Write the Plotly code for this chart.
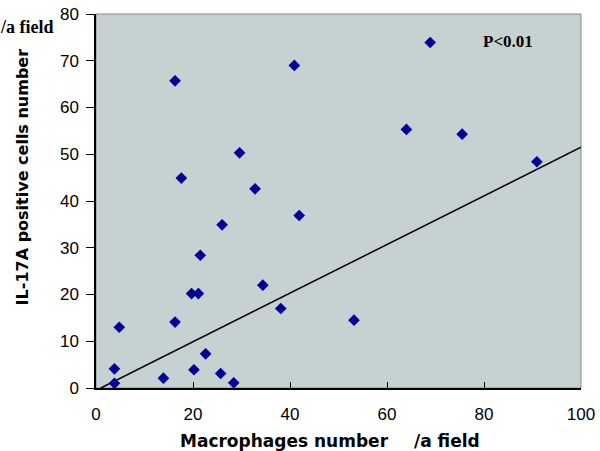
import plotly.graph_objects as go

macrophages = [16.3, 40.9, 29.6, 17.6, 32.8, 41.9, 26.0, 21.5, 34.4, 19.7, 21.1, 38.1,
               16.3, 53.2, 22.6, 20.2, 25.7, 13.9, 28.4, 4.8, 3.8, 3.8, 68.9, 64.0,
               75.5, 90.9]
il17a = [65.7, 69.0, 50.3, 44.9, 42.6, 36.9, 34.9, 28.4, 22.0, 20.2, 20.2, 17.0,
         14.1, 14.5, 7.3, 3.9, 3.1, 2.1, 1.1, 13.0, 4.1, 1.0, 73.9, 55.3,
         54.3, 48.4]
trend_x = [1, 100]
trend_y = [0, 51.5]
x_ticks = [0, 20, 40, 60, 80, 100]
y_ticks = [0, 10, 20, 30, 40, 50, 60, 70, 80]

W, H = 600, 451
L, R, T, B = 96, 17, 5, 63
pw, ph = W - L - R, H - T - B


def px(xp):
    return (xp - L) / pw


def py(yp):
    return 1 - (yp - T) / ph


fig = go.Figure()
fig.add_trace(go.Scatter(x=trend_x, y=trend_y, mode="lines",
                         line=dict(color="black", width=1.5), showlegend=False))
fig.add_trace(go.Scatter(x=macrophages, y=il17a, mode="markers",
                         marker=dict(symbol="diamond", size=9, color="#000099"),
                         showlegend=False))

common = dict(xref="paper", yref="paper", showarrow=False,
              xanchor="center", yanchor="middle")
fig.update_layout(
    width=W, height=H,
    margin=dict(l=L, r=R, t=T, b=B),
    paper_bgcolor="white", plot_bgcolor="#C6D1D1",
    font=dict(family="Liberation Sans, Arial", size=17, color="black"),
    xaxis=dict(range=[0, 100], tickvals=x_ticks, ticks="inside", ticklen=6,
               tickcolor="black", showline=True, linecolor="black", linewidth=1.5,
               showgrid=False, zeroline=False, tickfont=dict(size=17),
               ticklabeloverflow="allow", ticklabelstandoff=10),
    yaxis=dict(range=[0, 80], tickvals=y_ticks, ticks="outside", ticklen=8,
               tickcolor="black", showline=True, linecolor="black", linewidth=1.5,
               showgrid=False, zeroline=False, tickfont=dict(size=17),
               ticklabeloverflow="allow", ticklabelstandoff=4),
    shapes=[dict(type="rect", xref="paper", yref="paper", x0=0, y0=0, x1=1, y1=1,
                 line=dict(color="#888888", width=1), layer="below")],
    annotations=[
        dict(text="<b>P<0.01</b>", x=px(510), y=py(33),
             font=dict(family="Liberation Serif, Times New Roman", size=17), **common),
        dict(text="<b>/a field</b>", x=px(27), y=py(18),
             font=dict(family="Liberation Serif, Times New Roman", size=18), **common),
        dict(text="<b>IL-17A positive cells number</b>", x=px(22), y=py(172),
             textangle=-90, font=dict(family="DejaVu Sans", size=16), **common),
        dict(text="<b>Macrophages number</b>", x=px(285), y=py(442),
             font=dict(family="DejaVu Sans", size=17), **common),
        dict(text="<b>/a field</b>", x=px(448), y=py(442),
             font=dict(family="DejaVu Sans", size=17), **common),
    ],
)
fig.write_html("out.html", config={"displayModeBar": False},
               post_script="document.body.style.margin='0';")
